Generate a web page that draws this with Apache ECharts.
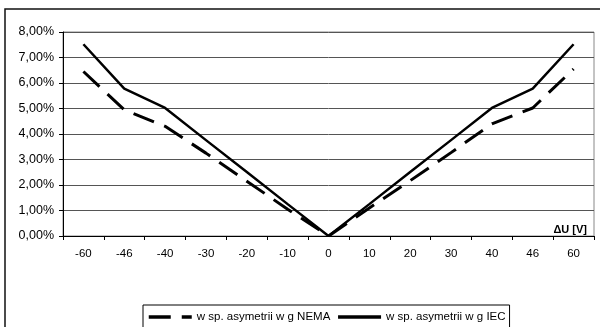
<!DOCTYPE html>
<html>
<head>
<meta charset="utf-8">
<script src="https://cdn.jsdelivr.net/npm/echarts@6/dist/echarts.min.js"></script>
<style>
html,body{margin:0;padding:0;background:#fff;}
#c{width:600px;height:327px;}
</style>
</head>
<body>
<div id="c"></div>
<script>
const categories = ['-60','-46','-40','-30','-20','-10','0','10','20','30','40','46','60'];
const nemaValues = [6.45, 4.95, 4.3, 3.25, 2.15, 1.05, 0, 1.1, 2.17, 3.27, 4.4, 5.02, 6.55];
const iecValues  = [7.52, 5.78, 5.02, 3.76, 2.51, 1.25, 0, 1.25, 2.51, 3.76, 5.02, 5.78, 7.52];
const nemaName = 'w sp. asymetrii w g NEMA';
const iecName = 'w sp. asymetrii w g IEC';
const xAxisTitle = 'ΔU [V]';

const chart = echarts.init(document.getElementById('c'), null, {renderer:'canvas'});
const font = 'Liberation Sans, Arial, sans-serif';
chart.setOption({
  animation: false,
  textStyle: {fontFamily: font, color: '#000'},
  grid: {left: 63, right: 6, top: 32, bottom: 91, show: true, borderColor: '#888', borderWidth: 1},
  legend: {
    left: 143, top: 305,
    width: 380,
    padding: [6, 4, 6, 4],
    borderColor: '#000', borderWidth: 1,
    itemWidth: 43, itemHeight: 10, itemGap: 6,
    itemStyle: {color: 'rgba(0,0,0,0)', borderColor: 'rgba(0,0,0,0)', borderWidth: 0},
    lineStyle: {width: 3.5},
    textStyle: {fontFamily: font, fontSize: 11.5, color: '#000'},
    data: [nemaName, iecName]
  },
  xAxis: {
    type: 'category',
    data: categories,
    boundaryGap: true,
    axisLine: {lineStyle: {color: '#000', width: 1}},
    axisTick: {show: true, length: 4, lineStyle: {color: '#000'}, alignWithLabel: false},
    axisLabel: {fontFamily: font, fontSize: 11.5, color: '#000', margin: 12},
    splitLine: {show: false}
  },
  yAxis: {
    type: 'value',
    min: 0, max: 8, interval: 1,
    axisLine: {show: true, lineStyle: {color: '#000', width: 1}},
    axisTick: {show: true, length: 4, lineStyle: {color: '#000'}},
    axisLabel: {fontFamily: font, fontSize: 12.5, color: '#000', margin: 9,
      formatter: v => v.toFixed(2).replace('.', ',') + '%'},
    splitLine: {show: true, lineStyle: {color: '#555', width: 1}}
  },
  series: [
    {
      name: nemaName, type: 'line', data: nemaValues,
      symbol: 'none',
      lineStyle: {color: '#000', width: 3, type: [22, 11], cap: 'butt'},
      itemStyle: {color: '#000'}
    },
    {
      name: iecName, type: 'line', data: iecValues,
      symbol: 'none',
      lineStyle: {color: '#000', width: 2.5, type: 'solid'},
      itemStyle: {color: '#000'}
    }
  ],
  graphic: [
    {type: 'rect', shape: {x: 5, y: 9, width: 620, height: 400},
     style: {fill: 'none', stroke: '#111', lineWidth: 1.5}, silent: true, z: -1},
    {type: 'text', right: 13, top: 224,
     style: {text: xAxisTitle, font: 'bold 11px ' + font, fill: '#000'}}
  ]
});
</script>
</body>
</html>
